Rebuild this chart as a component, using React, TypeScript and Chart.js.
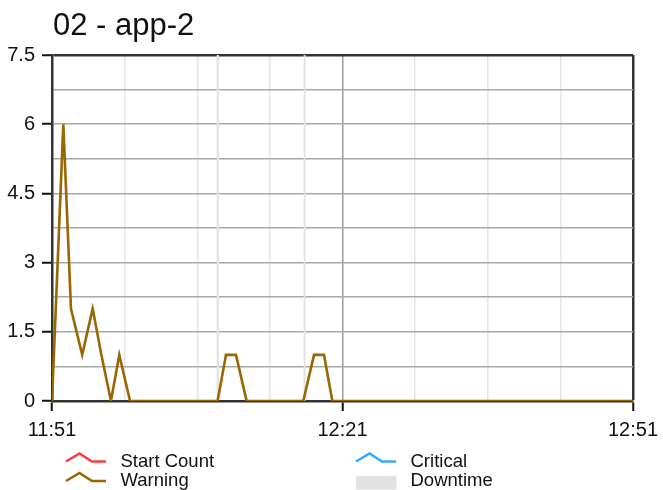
import React, { useEffect, useRef } from 'react';
import { Chart, registerables } from 'chart.js';

Chart.register(...registerables);

// ---------- data ----------
const chartTitle = '02 - app-2';
// x values are minutes after 11:51
const xTickMinutes = [0, 30, 60];
const xTickLabels = ['11:51', '12:21', '12:51'];
const yTickValues = [0, 1.5, 3, 4.5, 6, 7.5];
const yTickLabels = ['0', '1.5', '3', '4.5', '6', '7.5'];

const warningMinutes = [0, 1.17, 1.96, 3.12, 4.2, 5.1, 6.09, 6.95, 8.06, 17.1, 17.97, 19.0, 20.1, 25.95, 27.06, 28.09, 28.95, 60];
const warningValues = [0, 6, 2, 1, 2, 1, 0, 1, 0, 0, 1, 1, 0, 0, 1, 1, 0, 0];

const startCountMinutes: number[] = [];
const startCountValues: number[] = [];
const criticalMinutes: number[] = [];
const criticalValues: number[] = [];

const downtimeStart = [16.98, 25.96];
const downtimeEnd = [17.26, 26.2];

const legendLabels = ['Start Count', 'Critical', 'Warning', 'Downtime'];

// ---------- styles ----------
const FONT = '"Liberation Sans", Arial, Helvetica, sans-serif';
const RED = '#ff3b3b';
const BLUE = '#33aaff';
const BROWN = '#996600';
const DOWN = '#e2e2e2';
const AXIS = '#333333';

const near = (a: number, b: number) => Math.abs(a - b) < 1e-6;

const toPoints = (xs: number[], ys: number[]) => xs.map((x, i) => ({ x, y: ys[i] }));

const downtimePoints = () => {
  const pts: { x: number; y: number | null }[] = [];
  downtimeStart.forEach((s, i) => {
    pts.push({ x: s, y: 7.5 });
    pts.push({ x: downtimeEnd[i], y: 7.5 });
    pts.push({ x: downtimeEnd[i] + 0.01, y: null });
  });
  return pts;
};

const titleLegendPlugin = {
  id: 'titleLegend',
  afterDraw(chart: any) {
    const ctx = chart.ctx as CanvasRenderingContext2D;
    const area = chart.chartArea;
    ctx.save();
    ctx.fillStyle = '#111';
    ctx.font = `31px ${FONT}`;
    ctx.textAlign = 'left';
    ctx.textBaseline = 'alphabetic';
    ctx.fillText(chartTitle, area.left + 1, 35);

    const cols = [66, 356];
    const rows = [461.5, 481];
    const kinds = ['line', 'line', 'line', 'box'];
    const colors = [RED, BLUE, BROWN, DOWN];
    legendLabels.forEach((label, i) => {
      const cx = cols[i % 2];
      const cy = rows[Math.floor(i / 2)];
      if (kinds[i] === 'line') {
        ctx.strokeStyle = colors[i];
        ctx.lineWidth = 2.5;
        ctx.lineJoin = 'miter';
        ctx.beginPath();
        ctx.moveTo(cx, cy);
        ctx.lineTo(cx + 13.5, cy - 8);
        ctx.lineTo(cx + 26, cy);
        ctx.lineTo(cx + 40, cy);
        ctx.stroke();
      } else {
        ctx.fillStyle = colors[i];
        ctx.fillRect(cx, cy - 5, 40.5, 13.5);
      }
      ctx.fillStyle = '#111';
      ctx.font = `18.5px ${FONT}`;
      ctx.textBaseline = 'middle';
      ctx.fillText(label, cx + 54.5, cy);
    });
    ctx.restore();
  },
};

export default function App() {
  const ref = useRef<HTMLCanvasElement | null>(null);

  useEffect(() => {
    if (!ref.current) return;
    const chart = new Chart(ref.current, {
      type: 'line',
      data: {
        datasets: [
          {
            label: legendLabels[0],
            data: toPoints(startCountMinutes, startCountValues),
            borderColor: RED,
            borderWidth: 2.5,
            pointRadius: 0,
            order: 1,
          },
          {
            label: legendLabels[1],
            data: toPoints(criticalMinutes, criticalValues),
            borderColor: BLUE,
            borderWidth: 2.5,
            pointRadius: 0,
            order: 1,
          },
          {
            label: legendLabels[2],
            data: toPoints(warningMinutes, warningValues),
            borderColor: BROWN,
            borderWidth: 2.6,
            pointRadius: 0,
            tension: 0,
            order: 0,
          },
          {
            label: legendLabels[3],
            data: downtimePoints(),
            borderWidth: 0,
            borderColor: 'rgba(0,0,0,0)',
            backgroundColor: DOWN,
            fill: 'origin',
            pointRadius: 0,
            spanGaps: false,
            order: 5,
          },
        ],
      },
      options: {
        animation: false,
        responsive: false,
        events: [],
        layout: { padding: { left: 0, right: 30, top: 55, bottom: 49 } },
        plugins: {
          legend: { display: false },
          title: { display: false },
          tooltip: { enabled: false },
        },
        scales: {
          x: {
            type: 'linear',
            min: 0,
            max: 60,
            afterFit: (s: any) => {
              s.height = 40;
              s.paddingLeft = 0;
              s.paddingRight = 0;
            },
            ticks: {
              stepSize: 7.5,
              autoSkip: false,
              maxRotation: 0,
              padding: 7,
              color: '#111',
              font: { family: FONT, size: 20 },
              callback: (v: any) => {
                const i = xTickMinutes.findIndex((m) => near(m, Number(v)));
                return i >= 0 ? xTickLabels[i] : '';
              },
            },
            grid: {
              drawTicks: true,
              tickLength: 10,
              tickWidth: 2,
              tickColor: (c: any) =>
                xTickMinutes.some((m) => near(m, c.tick?.value)) ? '#111' : 'rgba(0,0,0,0)',
              color: (c: any) => {
                const v = c.tick?.value;
                if (near(v, 60)) return AXIS;
                if (near(v, 30)) return '#9c9c9c';
                return '#e6e6e6';
              },
              lineWidth: (c: any) => {
                const v = c.tick?.value;
                if (near(v, 60)) return 2.5;
                return 1.5;
              },
            },
            border: { display: true, color: AXIS, width: 2.5 },
          },
          y: {
            type: 'linear',
            min: 0,
            max: 7.5,
            afterFit: (s: any) => {
              s.width = 52;
              s.paddingTop = 0;
              s.paddingBottom = 0;
            },
            ticks: {
              stepSize: 0.75,
              autoSkip: false,
              padding: 7,
              color: '#111',
              font: { family: FONT, size: 20 },
              callback: (v: any) => {
                const i = yTickValues.findIndex((t) => near(t, Number(v)));
                return i >= 0 ? yTickLabels[i] : '';
              },
            },
            grid: {
              drawTicks: true,
              tickLength: 10,
              tickWidth: 2,
              tickColor: (c: any) =>
                yTickValues.some((t) => near(t, c.tick?.value)) ? '#111' : 'rgba(0,0,0,0)',
              color: (c: any) => (near(c.tick?.value, 7.5) ? AXIS : '#a8a8a8'),
              lineWidth: (c: any) => (near(c.tick?.value, 7.5) ? 2.5 : 1.5),
            },
            border: { display: true, color: AXIS, width: 2.5 },
          },
        },
      },
      plugins: [titleLegendPlugin],
    } as any);
    return () => chart.destroy();
  }, []);

  return (
    <div style={{ position: 'fixed', left: 0, top: 0, width: 663, height: 490, background: '#fff' }}>
      <canvas ref={ref} width={663} height={490} style={{ width: 663, height: 490, display: 'block' }} />
    </div>
  );
}
